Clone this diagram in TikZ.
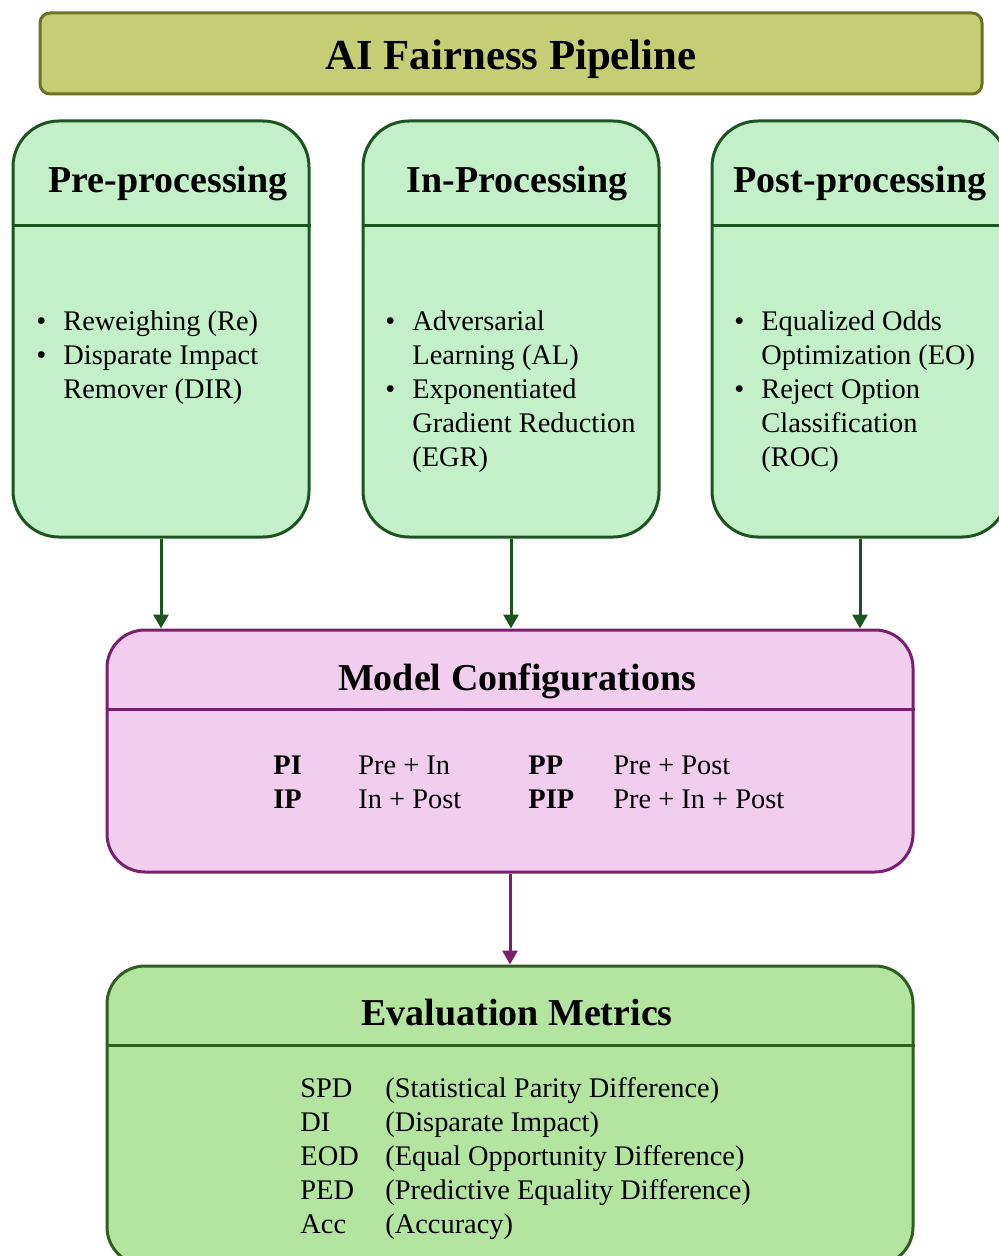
\documentclass[tikz,border=0pt]{standalone}
\usepackage{fontspec}
\setmainfont{Liberation Serif}
\usepackage{tikz}
\usetikzlibrary{calc,arrows.meta}
\usepackage{color}
\definecolor{titlefill}{RGB}{197,206,117}
\definecolor{titleline}{RGB}{107,114,40}
\definecolor{stagefill}{RGB}{195,240,200}
\definecolor{stageline}{RGB}{27,85,30}
\definecolor{cfgfill}{RGB}{241,206,238}
\definecolor{cfgline}{RGB}{122,30,110}
\definecolor{evalfill}{RGB}{179,229,161}
\definecolor{evalline}{RGB}{48,94,30}

\begin{document}
\begin{tikzpicture}[x=0.5pt,y=-0.5pt,
  box/.style={draw, line width=1.5pt, rounded corners=19pt, inner sep=0pt},
  stage/.style={box, rounded corners=23pt, fill=stagefill, draw=stageline, minimum width=148pt, minimum height=208pt},
  head/.style={font=\fontsize{19}{22}\selectfont\bfseries, inner sep=0pt},
  body/.style={font=\fontsize{14.2}{17}\selectfont, inner sep=0pt, anchor=base west},
  flow/.style={-{Triangle[length=7pt,width=7.5pt]}, line width=1.5pt}]
        \useasboundingbox (0,0) rectangle (999,1256);
        \clip (0,0) rectangle (999,1256);
        % title bar
        \node[box, rounded corners=5pt, fill=titlefill, draw=titleline, minimum width=471pt, minimum height=40.5pt] (top) at (511,53.5) {};
        \node[head, font=\fontsize{21.4}{24}\selectfont\bfseries] (toptext) at (511,59) {AI Fairness Pipeline};
        % three stages
        \node[stage] (pre) at (161,329) {};
        \node[stage] (in) at (511,329) {};
        \node[stage] (post) at (860,329) {};
        \foreach \s in {pre,in,post}
          \draw[stageline, line width=1.5pt] ($(\s.north west)+(0,106)$) -- ($(\s.north east)+(0,106)$);
        \node[head] (pretext) at (168,184) {Pre-processing};
        \node[head] (intext) at (517,184) {In-Processing};
        \node[head] (posttext) at (860,184) {Post-processing};
        \node[body] (prelist) at (36,331) {\begin{tabular}[t]{@{}p{13.5pt}@{}l@{}}
          \textbullet & Reweighing (Re)\\
          \textbullet & Disparate Impact\\
          & Remover (DIR)\end{tabular}};
        \node[body] (inlist) at (385,331) {\begin{tabular}[t]{@{}p{13.5pt}@{}l@{}}
          \textbullet & Adversarial\\
          & Learning (AL)\\
          \textbullet & Exponentiated\\
          & Gradient Reduction\\
          & (EGR)\end{tabular}};
        \node[body] (postlist) at (734,331) {\begin{tabular}[t]{@{}p{13.5pt}@{}l@{}}
          \textbullet & Equalized Odds\\
          & Optimization (EO)\\
          \textbullet & Reject Option\\
          & Classification\\
          & (ROC)\end{tabular}};
        % model configurations
        \node[box, fill=cfgfill, draw=cfgline, minimum width=403pt, minimum height=121pt] (cfg) at (510,751) {};
        \draw[cfgline, line width=1.5pt] ($(cfg.north west)+(0,81)$) -- ($(cfg.north east)+(0,81)$);
        \node[head] (cfgtext) at (517,681) {Model Configurations};
        \node[body] (cfglist) at (273,774) {\begin{tabular}[t]{@{}p{42.5pt}@{}p{85pt}@{}p{42.5pt}@{}l@{}}
          \textbf{PI} & Pre + In & \textbf{PP} & Pre + Post\\
          \textbf{IP} & In + Post & \textbf{PIP} & Pre + In + Post\end{tabular}};
        % evaluation metrics
        \node[box, fill=evalfill, draw=evalline, minimum width=403pt, minimum height=149.5pt] (eval) at (510,1115.5) {};
        \draw[evalline, line width=1.5pt] ($(eval.north west)+(0,81)$) -- ($(eval.north east)+(0,81)$);
        \node[head] (evaltext) at (517,1013) {Evaluation Metrics};
        \node[body] (evallist) at (300,1097) {\begin{tabular}[t]{@{}p{42.5pt}@{}l@{}}
          SPD & (Statistical Parity Difference)\\
          DI & (Disparate Impact)\\
          EOD & (Equal Opportunity Difference)\\
          PED & (Predictive Equality Difference)\\
          Acc & (Accuracy)\end{tabular}};
        % arrows
        \draw[flow, stageline] (pre.south) -- (pre.south |- cfg.north);
        \draw[flow, stageline] (in.south) -- (in.south |- cfg.north);
        \draw[flow, stageline] (post.south) -- (post.south |- cfg.north);
        \draw[flow, cfgline] (cfg.south) -- (eval.north);
\end{tikzpicture}
\end{document}
